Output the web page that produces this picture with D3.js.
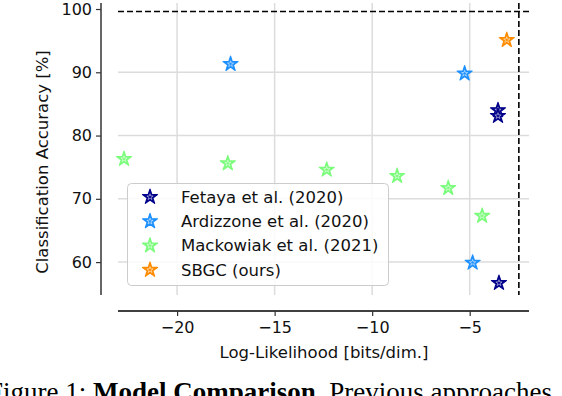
<!DOCTYPE html>
<html><head><meta charset="utf-8">
<script src="https://cdn.jsdelivr.net/npm/d3@7"></script>
<style>body{margin:0;background:#fff}svg{display:block}</style>
</head><body><svg id="c" width="562" height="396"></svg>
<script>
const seriesNames = ["Fetaya et al. (2020)", "Ardizzone et al. (2020)", "Mackowiak et al. (2021)", "SBGC (ours)"];
const seriesColors = ["#00008b", "#1e90ff", "#7cfc7c", "#ff8c00"];
const fetayaX = [-3.55, -3.55, -3.5];
const fetayaY = [84.0, 83.1, 56.7];
const ardizzoneX = [-17.26, -5.26, -4.85];
const ardizzoneY = [91.3, 89.8, 59.9];
const mackowiakX = [-22.72, -17.4, -12.33, -8.72, -6.1, -4.36];
const mackowiakY = [76.3, 75.6, 74.6, 73.6, 71.7, 67.3];
const sbgcX = [-3.1];
const sbgcY = [95.1];
const xTicks = [-20, -15, -10, -5];
const yTicks = [60, 70, 80, 90, 100];
const refX = -2.48, refY = 99.6;

const svg = d3.select("#c");
const x = d3.scaleLinear().domain([-23.03, -1.96]).range([118, 529]);
const y = d3.scaleLinear().domain([54.8, 100.95]).range([295, 3]);

// grid
const g = svg.append("g");
g.selectAll(".gx").data(xTicks).join("line")
  .attr("x1", d => x(d)).attr("x2", d => x(d)).attr("y1", 3).attr("y2", 295)
  .attr("stroke", "#dcdcdc").attr("stroke-width", 1.5);
g.selectAll(".gy").data(yTicks.filter(v => v < 100)).join("line")
  .attr("x1", 118).attr("x2", 529).attr("y1", d => y(d)).attr("y2", d => y(d))
  .attr("stroke", "#dcdcdc").attr("stroke-width", 1.5);

// axes
const xAxis = svg.append("g").attr("transform", "translate(0,311)")
  .call(d3.axisBottom(x).tickValues(xTicks).tickSize(5).tickPadding(6).tickFormat(d => "\u2212" + Math.abs(d)));
xAxis.select(".domain").attr("d", "M118,0H529").attr("stroke", "#000").attr("stroke-width", 1.5);
const yAxis = svg.append("g").attr("transform", "translate(101,0)")
  .call(d3.axisLeft(y).tickValues(yTicks).tickSize(5).tickPadding(4));
yAxis.select(".domain").attr("d", "M0,3V295").attr("stroke", "#333").attr("stroke-width", 1.5);
[xAxis, yAxis].forEach(a => {
  a.selectAll("text").attr("font-family", "DejaVu Sans").attr("font-size", 16).attr("fill", "#111");
  a.selectAll(".tick line").attr("stroke", "#333").attr("stroke-width", 1.2);
});

// reference dashed lines
svg.append("line").attr("x1", 118).attr("x2", 529).attr("y1", y(refY)).attr("y2", y(refY))
  .attr("stroke", "#000").attr("stroke-width", 1.6).attr("stroke-dasharray", "6,3");
svg.append("line").attr("x1", x(refX)).attr("x2", x(refX)).attr("y1", 3).attr("y2", 295)
  .attr("stroke", "#000").attr("stroke-width", 1.6).attr("stroke-dasharray", "6,3");

// markers
const star = d3.symbol().type(d3.symbolStar).size(70);
const starIn = d3.symbol().type(d3.symbolStar).size(12);
function drawStar(sel, cx, cy, col) {
  const s = sel.append("g").attr("transform", `translate(${cx},${cy})`);
  s.append("path").attr("d", star()).attr("fill", col).attr("stroke", col).attr("stroke-width", 1.2).attr("stroke-linejoin", "round");
  s.append("path").attr("d", starIn()).attr("fill", "none").attr("stroke", "#fff").attr("stroke-width", 0.7).attr("opacity", 0.7);
}
const allX = [fetayaX, ardizzoneX, mackowiakX, sbgcX];
const allY = [fetayaY, ardizzoneY, mackowiakY, sbgcY];
const pts = svg.append("g");
allX.forEach((xs, i) => xs.forEach((xv, j) => drawStar(pts, x(xv), y(allY[i][j]), seriesColors[i])));

// legend
const lg = svg.append("g");
lg.append("rect").attr("x", 127.5).attr("y", 183.5).attr("width", 261).attr("height", 102).attr("rx", 4)
  .attr("fill", "rgba(255,255,255,0.85)").attr("stroke", "#cccccc").attr("stroke-width", 1);
seriesNames.forEach((n, i) => {
  const yy = 197 + i * 24.3;
  drawStar(lg, 150, yy, seriesColors[i]);
  lg.append("text").attr("x", 181).attr("y", yy).attr("dy", "0.35em")
    .attr("font-family", "DejaVu Sans").attr("font-size", 16.5).attr("fill", "#111").text(n);
});

// axis labels
svg.append("text").attr("x", 324).attr("y", 358).attr("text-anchor", "middle")
  .attr("font-family", "DejaVu Sans").attr("font-size", 16.5).attr("fill", "#111").text("Log-Likelihood [bits/dim.]");
svg.append("text").attr("transform", "translate(48,162) rotate(-90)").attr("text-anchor", "middle")
  .attr("font-family", "DejaVu Sans").attr("font-size", 16.5).attr("fill", "#111").text("Classification Accuracy [%]");

// caption
const cap = svg.append("text").attr("x", -12).attr("y", 401)
  .attr("font-family", "Liberation Serif").attr("font-size", 27).attr("fill", "#000");
cap.append("tspan").text("Figure 1: ");
cap.append("tspan").attr("font-weight", "bold").text("Model Comparison");
cap.append("tspan").text(". Previous approaches");
</script></body></html>
